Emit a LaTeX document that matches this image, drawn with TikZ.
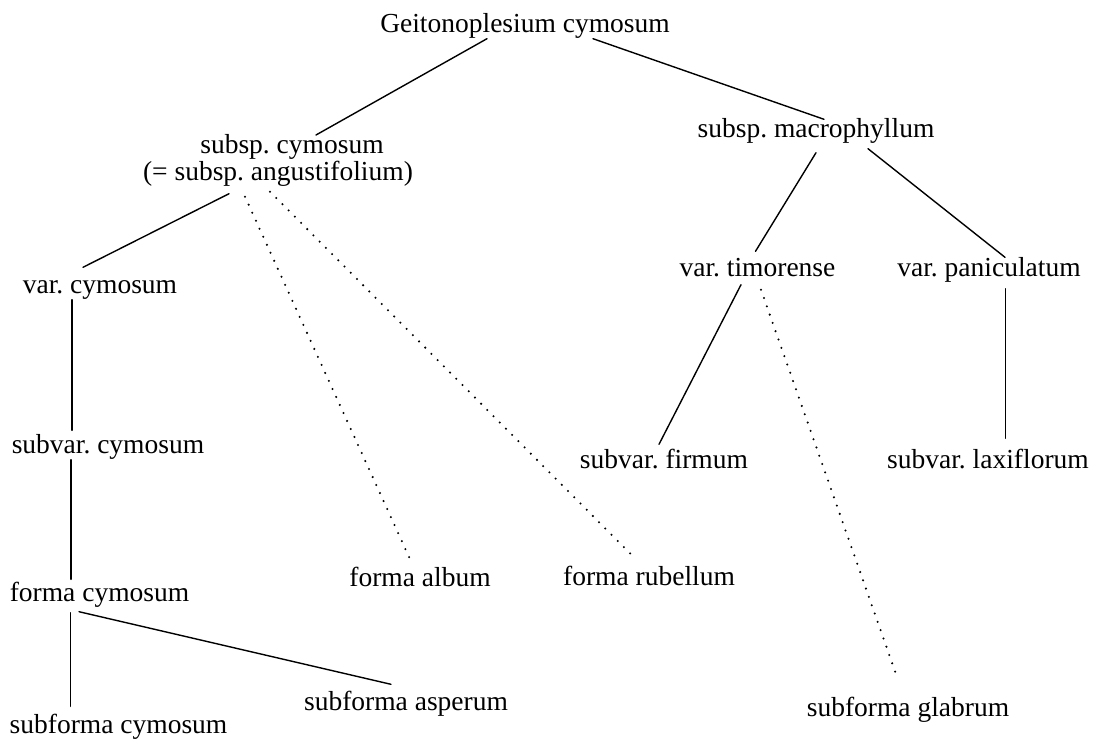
\documentclass[tikz,border=0pt]{standalone}
\usepackage{fontspec}
\setmainfont{Liberation Serif}
\begin{document}
\begin{tikzpicture}[x=1pt, y=-1pt, font=\fontsize{27.5}{23.5}\selectfont\frenchspacing, line join=round, line cap=round, line width=1.4pt,
		tx/.style={inner sep=0pt, text height=19pt, text depth=6pt, anchor=base},
		dotln/.style={line width=2.3pt, dash pattern=on 0pt off 8.8pt}]
	\useasboundingbox (0,0) rectangle (1095,739);
	% taxa, placed at their baselines
	\node[tx] (root) at (525,32) {Geitonoplesium cymosum};
	\node[inner sep=0pt, anchor=north, align=center] (ssp) at (278,134) {\hspace*{28pt}subsp. cymosum\\(= subsp. angustifolium)};
	\node[tx] (mac) at (816,137) {subsp. macrophyllum};
	\node[tx] (tim) at (757.5,276) {var. timorense};
	\node[tx] (pan) at (989,276) {var. paniculatum};
	\node[tx] (vcy) at (100,293) {var. cymosum};
	\node[tx] (svc) at (108,453) {subvar. cymosum};
	\node[tx] (fir) at (664,468) {subvar. firmum};
	\node[tx] (lax) at (988,468) {subvar. laxiflorum};
	\node[tx] (fcy) at (99.5,601) {forma cymosum};
	\node[tx] (alb) at (420,586) {forma album};
	\node[tx] (rub) at (649,585) {forma rubellum};
	\node[tx] (sfc) at (118.5,733) {subforma cymosum};
	\node[tx] (sfa) at (406,710) {subforma asperum};
	\node[tx] (sfg) at (908,716.5) {subforma glabrum};
	% solid links
	\draw ([xshift=-38]root.south) -- ([xshift=38,yshift=-1]ssp.north);
	\draw ([xshift=68]root.south) -- ([xshift=8,yshift=-2]mac.north);
	\draw ([xshift=-49,yshift=-7]ssp.south) -- ([xshift=-17,yshift=6]vcy.north);
	\draw ([yshift=-9]mac.south) -- ([xshift=-2,yshift=5]tim.north);
	\draw ([xshift=52,yshift=-5]mac.south) -- ([xshift=16,yshift=-1]pan.north);
	\draw ([xshift=-28]vcy.south) -- ([xshift=-36,yshift=3]svc.north);
	\draw ([xshift=-37]svc.south) -- ([xshift=-28.5,yshift=2]fcy.north);
	\draw ([xshift=-29,yshift=-5]fcy.south) -- ([xshift=-48,yshift=7]sfc.north);
	\draw ([xshift=-20.5,yshift=-4]fcy.south) -- ([xshift=-15,yshift=6]sfa.north);
	\draw ([xshift=-16.5,yshift=-2]tim.south) -- ([xshift=-5,yshift=4]fir.north);
	\draw ([xshift=16.5,yshift=-6]pan.south) -- ([xshift=17.5,yshift=10]lax.north);
	% dotted links
	\draw[dotln] ([xshift=-33,yshift=-10]ssp.south) -- ([xshift=-9,yshift=5]alb.north);
	\draw[dotln] ([xshift=-8,yshift=-5]ssp.south) -- ([xshift=-16,yshift=9]rub.north);
	\draw[dotln] ([xshift=3.5,yshift=-7]tim.south) -- ([xshift=-10,yshift=17]sfg.north);
\end{tikzpicture}
\end{document}
